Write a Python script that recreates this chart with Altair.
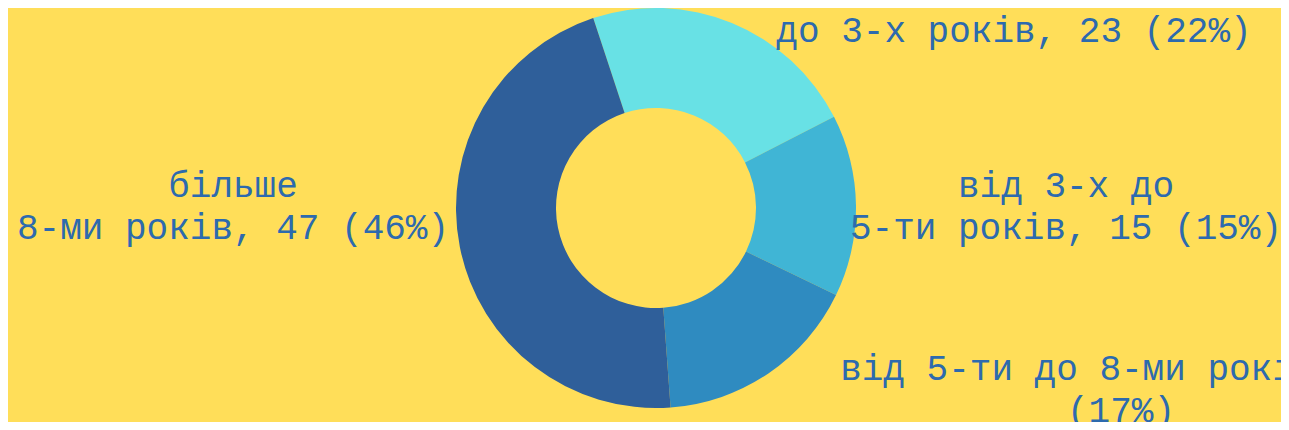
import math
import altair as alt
import pandas as pd

# ---- data ----
categories = ["до 3-х років", "від 3-х до 5-ти років", "від 5-ти до 8-ми років", "більше 8-ми років"]
values = [23, 15, 17, 47]
percents = [22, 15, 17, 46]
# label texts as printed (with the original's line breaks)
label_texts = [
    f"до 3-х років, {values[0]} ({percents[0]}%)",
    f"від 3-х до\n5-ти років, {values[1]} ({percents[1]}%)",
    f"від 5-ти до 8-ми років, {values[2]}\n({percents[2]}%)",
    f"більше\n8-ми років, {values[3]} ({percents[3]}%)",
]

colors = ["#68E1E5", "#40B5D5", "#2F8BC0", "#2F5F9A"]
bg = "#FFDE59"
text_color = "#2D6AAE"

df = pd.DataFrame({"cat": categories, "value": values, "idx": list(range(len(categories)))})

start = math.radians(-18.3)

W, H = 1273, 414
cx, cy = 648, 200

donut = alt.Chart(df).mark_arc(outerRadius=200, innerRadius=100).encode(
    theta=alt.Theta("value:Q", stack=True, scale=alt.Scale(range=[start, start + 2 * math.pi])),
    color=alt.Color("cat:N", scale=alt.Scale(domain=categories, range=colors), legend=None),
    order=alt.Order("idx:Q"),
    x=alt.value(cx),
    y=alt.value(cy),
)

# label anchors (centre x, first-line baseline y)
placement = [(1006, 34), (1058, 189), (1113, 372), (225, 189)]

layers = [donut]
for txt, (px, py) in zip(label_texts, placement):
    t = alt.Chart(pd.DataFrame({"label": [txt]})).mark_text(
        font="Liberation Mono",
        fontSize=36,
        color=text_color,
        align="center",
        baseline="alphabetic",
        lineBreak="\n",
        lineHeight=42,
    ).encode(text="label:N", x=alt.value(px), y=alt.value(py))
    layers.append(t)

chart = alt.layer(*layers).properties(
    width=W,
    height=H,
    background=bg,
    padding=0,
    autosize=alt.AutoSizeParams(type="none"),
).configure_view(stroke=None)

chart.save("out.html", embed_options={"renderer": "svg", "actions": False})
